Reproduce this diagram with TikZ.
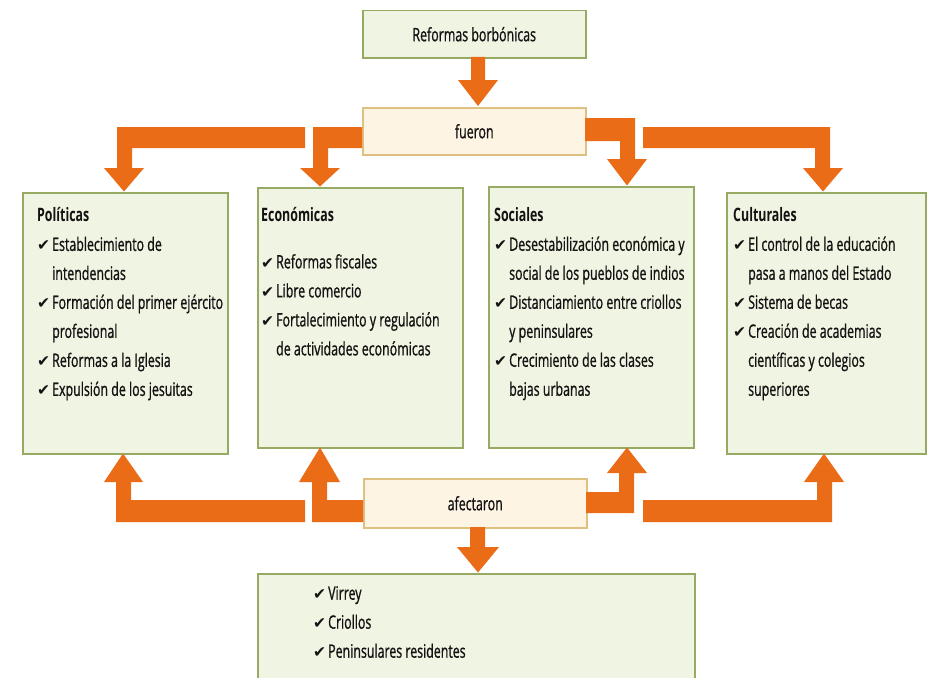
\documentclass[tikz,border=0pt]{standalone}
\usepackage{fontspec}
\setmainfont{Open Sans}[FakeStretch=0.67, UprightFeatures={FakeBold=0.9}]
\newfontfamily\symfont{DejaVu Sans}
\definecolor{arr}{RGB}{234,108,22}
\definecolor{gfill}{RGB}{240,244,226}
\definecolor{gborder}{RGB}{150,170,100}
\definecolor{pfill}{RGB}{253,244,228}
\definecolor{pborder}{RGB}{222,192,128}
\definecolor{tcol}{RGB}{20,18,18}
\newcommand{\ck}{\makebox[15pt][l]{\symfont\fontsize{15.5}{15.5}\selectfont ✔}}
\newcommand{\ind}{\hspace*{15pt}}
\begin{document}
\begin{tikzpicture}[x=1pt,y=-1pt,
  gbox/.style={draw=gborder, fill=gfill, line width=1.5pt, rectangle, inner sep=0pt, anchor=north west, text=tcol, font=\fontsize{18.5}{22}\selectfont},
  pbox/.style={draw=pborder, fill=pfill, line width=1.5pt, rectangle, inner sep=0pt, anchor=north west, text=tcol, font=\fontsize{18.5}{22}\selectfont},
  txt/.style={anchor=north west, inner sep=0pt, align=left, text=tcol, font=\fontsize{18.5}{29}\selectfont},
  barrow/.style={fill=arr, draw=none}]
\useasboundingbox (0,0) rectangle (933,677);
\clip (0,0) rectangle (933,677);
\fill[white] (0,0) rectangle (933,677);

% boxes
\node[gbox, minimum width=223pt, minimum height=47pt] (top) at (362,10) {Reformas borbónicas};
\node[pbox, minimum width=223pt, minimum height=47pt] (fue) at (362,107) {fueron};
\node[gbox, minimum width=205pt, minimum height=261pt] (pol) at (22,192) {};
\node[gbox, minimum width=205pt, minimum height=260pt] (eco) at (257,187) {};
\node[gbox, minimum width=205pt, minimum height=261pt] (soc) at (488,186) {};
\node[gbox, minimum width=199pt, minimum height=261pt] (cul) at (726,192) {};
\node[pbox, minimum width=223pt, minimum height=49pt] (afe) at (363,478) {afectaron};
\node[gbox, minimum width=437pt, minimum height=130pt] (bot) at (257,573) {};

% texts
\node[txt] (poltxt) at (37,207.5) {\rule{0pt}{14pt}\textbf{Políticas}\\
 \ck Establecimiento de\\ \ind intendencias\\ \ck Formación del primer ejército\\
 \ind profesional\\ \ck Reformas a la Iglesia\\ \ck Expulsión de los jesuitas};
\node[txt] (ecotxt) at (261,207.5) {\rule{0pt}{14pt}\textbf{Económicas}\\[17.5pt]
 \ck Reformas fiscales\\ \ck Libre comercio\\ \ck Fortalecimiento y regulación\\
 \ind de actividades económicas};
\node[txt] (soctxt) at (494,207.5) {\rule{0pt}{14pt}\textbf{Sociales}\\
 \ck Desestabilización económica y\\ \ind social de los pueblos de indios\\
 \ck Distanciamiento entre criollos\\ \ind y peninsulares\\
 \ck Crecimiento de las clases\\ \ind bajas urbanas};
\node[txt] (cultxt) at (733,207.5) {\rule{0pt}{14pt}\textbf{Culturales}\\
 \ck El control de la educación\\ \ind pasa a manos del Estado\\
 \ck Sistema de becas\\ \ck Creación de academias\\
 \ind científicas y colegios\\ \ind superiores};
\node[txt] (bottxt) at (313,585.5) {\rule{0pt}{14pt}\ck Virrey\\ \ck Criollos\\ \ck Peninsulares residentes};

% arrows from top to fueron
\fill[barrow] (471,57) -- (471,80) -- (458,80) -- (478,106) -- (498,80) -- (485,80) -- (485,57) -- cycle;
% fueron to the four boxes
\fill[barrow] (305,127) -- (117,127) -- (117,168) -- (104,168) -- (124,191.5) -- (144,168) -- (132,168) -- (132,148) -- (305,148) -- cycle;
\fill[barrow] (362,127) -- (313,127) -- (313,168) -- (300,168) -- (320,186.5) -- (340,168) -- (328,168) -- (328,148) -- (362,148) -- cycle;
\fill[barrow] (585,118) -- (635,118) -- (635,159) -- (647,159) -- (627,185.5) -- (607,159) -- (620,159) -- (620,141) -- (585,141) -- cycle;
\fill[barrow] (643,127) -- (830,127) -- (830,168) -- (843,168) -- (823,191.5) -- (803,168) -- (815,168) -- (815,148) -- (643,148) -- cycle;
% afectaron to the four boxes
\fill[barrow] (305,522) -- (116,522) -- (116,482) -- (104,482) -- (123,453.5) -- (143,482) -- (131,482) -- (131,500) -- (305,500) -- cycle;
\fill[barrow] (363,522) -- (312,522) -- (312,482) -- (299,482) -- (320,447.5) -- (340,482) -- (327,482) -- (327,500) -- (363,500) -- cycle;
\fill[barrow] (586,513) -- (634,513) -- (634,473) -- (647,473) -- (627,447.5) -- (607,473) -- (619,473) -- (619,492) -- (586,492) -- cycle;
\fill[barrow] (643,522) -- (832,522) -- (832,482) -- (844,482) -- (824,453.5) -- (804,482) -- (817,482) -- (817,500) -- (643,500) -- cycle;
% afectaron to bottom box
\fill[barrow] (470,527) -- (470,547) -- (457,547) -- (478,572.5) -- (499,547) -- (485,547) -- (485,527) -- cycle;
\end{tikzpicture}
\end{document}
